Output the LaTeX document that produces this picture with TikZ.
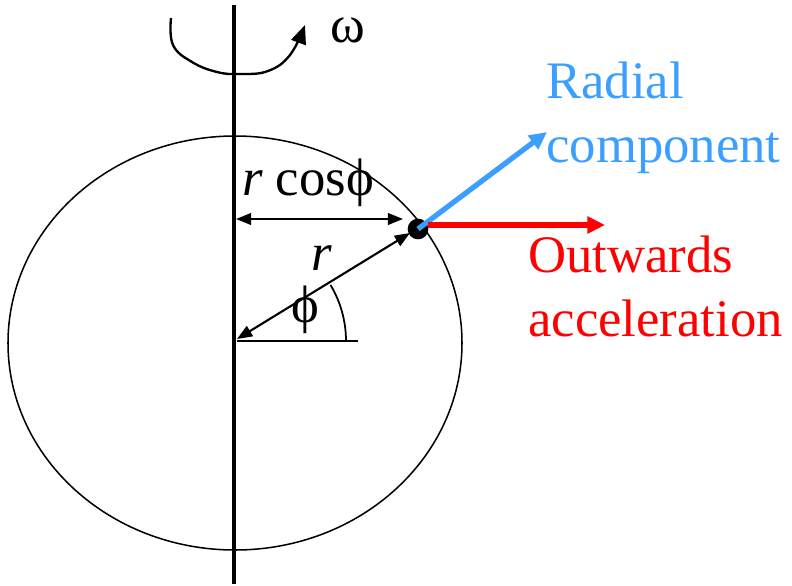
\documentclass[tikz,border=0pt]{standalone}
\usepackage{fontspec}
\setmainfont{Liberation Serif}
\usetikzlibrary{arrows.meta,positioning}
\definecolor{radialblue}{RGB}{59,159,255}

\begin{document}
\begin{tikzpicture}[
  x=0.03cm, y=-0.03cm,
  every node/.style={font=\fontsize{45}{54}\selectfont, inner sep=0pt},
  dimline/.style={{Triangle[length=13pt,width=10pt]}-{Triangle[length=13pt,width=10pt]}, line width=1.8pt},
  bigarrow/.style={-{Triangle[length=15pt,width=14pt]}, line width=4.5pt}
]
\useasboundingbox (0,0) rectangle (792,585);
% body and axis
\draw[line width=1.3pt] (235,343) ellipse [x radius=227, y radius=207];
\coordinate (top) at (234,5);
\coordinate (bottom) at (234,584);
\draw[line width=2.8pt] (top) -- (bottom);
% rotation
\draw[line width=2pt, -{Triangle[length=16pt,width=13pt]}] plot[smooth, tension=0.7] coordinates {(171,18) (173,45) (192,62) (217,72) (240,74) (268,71) (290,55) (305,25)};
\node (omega) at (348,30) {ω};
% point on the surface
\node[circle, fill, minimum size=0.62cm] (P) at (418,229) {};
\coordinate (axisP) at (236,219);
\coordinate (O) at (237,339);
\coordinate (hEnd) at (358,341);
\draw[dimline] (axisP) -- (403,219);
\draw[dimline] (O) -- (410,233);
\draw[line width=1.5pt] (237,341) -- (hEnd);
\draw[line width=1.5pt] (237,341) ++(-31:109) arc[start angle=-31, end angle=0, radius=109];
\node (rcos) at (308,183) {\textit{r} cosϕ};
\node (rlab) at (322,258) {\textit{r}};
\node (phi) at (305,310) {ϕ};
% accelerations
\coordinate (radTip) at (547,132);
\coordinate (outTip) at (605,225);
\draw[bigarrow, radialblue] (P.center) -- (radTip);
\draw[bigarrow, red] (428,225) -- (outTip);
\node[radialblue, align=left, anchor=north west] (radial) at (546,62) {Radial\\component};
\node[red, align=left, anchor=north west] (outwards) at (528,236) {Outwards\\acceleration};
\end{tikzpicture}
\end{document}
